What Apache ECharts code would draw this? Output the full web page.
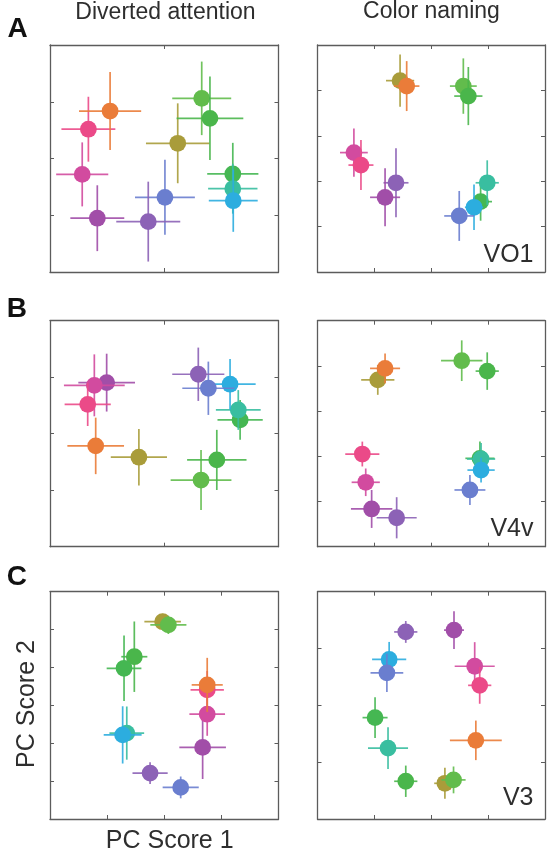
<!DOCTYPE html>
<html>
<head>
<meta charset="utf-8">
<script src="https://cdn.jsdelivr.net/npm/echarts@6/dist/echarts.min.js"></script>
<style>
html,body{margin:0;padding:0;background:#fff;}
#c{width:548px;height:853px;}
</style>
</head>
<body>
<div id="c"></div>
<script>
// Stimulus colour categories (draw order)
const categories = ['olive','green1','green2','green3','teal','cyan','blue','violet','purple','magenta','pink','orange'];
const catColors = ['#a99c3a','#62bc4c','#4ab64b','#45b752','#39bea0','#2caddf','#6a7ecf','#8c62b6','#a14ea8','#d24b9f','#eb4a88','#ea7c39'];

// Column / row labels
const columnTitles = ['Diverted attention', 'Color naming'];
const rowLetters = ['A', 'B', 'C'];
const areaLabels = ['VO1', 'V4v', 'V3'];
const xAxisName = 'PC Score 1';
const yAxisName = 'PC Score 2';

// Panel A, diverted attention (PC1, PC2, and error half-widths)
const aDivX  = [55.9, 66.4, 70.0, 80.0, 80.0, 80.2, 50.3, 43.0, 20.7, 14.1, 16.8, 26.3];
const aDivY  = [56.7, 76.5, 67.7, 43.2, 36.7, 31.4, 32.9, 22.2, 23.7, 43.0, 62.9, 70.9];
const aDivXe = [13.9, 12.9, 14.6, 11.2, 10.8, 10.7, 13.1, 14.0, 11.8, 11.4, 11.8, 13.6];
const aDivYe = [17.6, 16.2, 18.4, 13.7, 11.0, 13.7, 16.5, 17.6, 14.5, 14.1, 14.3, 17.2];
// Panel A, color naming
const aColX  = [36.3, 64.1, 66.3, 71.7, 74.6, 68.8, 62.3, 34.5, 29.7, 16.0, 19.1, 39.2];
const aColY  = [84.3, 81.9, 77.5, 31.0, 39.3, 28.5, 24.7, 39.3, 32.9, 52.6, 47.1, 81.9];
const aColXe = [6.2, 5.9, 6.2, 5.0, 5.1, 4.0, 6.6, 5.5, 6.6, 6.1, 5.5, 5.6];
const aColYe = [11.5, 12.2, 12.8, 8.4, 9.9, 10.0, 11.0, 15.2, 12.8, 10.6, 11.0, 11.0];
// Panel B, diverted attention
const bDivX  = [38.9, 66.1, 73.0, 83.2, 82.4, 78.8, 69.3, 64.9, 24.8, 19.4, 16.5, 20.0];
const bDivY  = [39.6, 29.5, 38.4, 56.1, 60.5, 71.9, 70.1, 76.3, 72.6, 71.4, 63.0, 44.6];
const bDivXe = [12.3, 13.3, 13.0, 9.9, 9.8, 11.2, 11.4, 11.4, 12.4, 13.3, 10.1, 12.4];
const bDivYe = [12.5, 13.3, 13.3, 8.8, 8.8, 11.2, 11.8, 11.8, 12.8, 13.7, 9.6, 12.5];
// Panel B, color naming
const bColX  = [26.5, 63.4, 74.6, 71.4, 71.9, 71.9, 67.0, 34.8, 23.8, 21.2, 19.7, 29.7];
const bColY  = [73.8, 82.3, 77.7, 39.1, 38.8, 33.9, 25.1, 12.8, 16.7, 28.5, 41.0, 78.9];
const bColXe = [7.3, 9.1, 5.1, 6.4, 6.2, 6.0, 6.8, 8.8, 9.1, 6.2, 7.5, 6.6];
const bColYe = [6.6, 9.0, 8.3, 7.5, 7.1, 5.5, 6.6, 9.1, 8.4, 6.1, 5.5, 6.6];
// Panel C, diverted attention
const cDivX  = [49.3, 51.8, 36.9, 32.4, 33.6, 31.8, 57.2, 43.8, 66.8, 68.8, 68.8, 68.8];
const cDivY  = [86.8, 85.4, 71.4, 66.3, 37.8, 37.0, 13.9, 20.2, 31.5, 46.1, 56.8, 59.0];
const cDivXe = [8.0, 7.9, 5.7, 7.6, 7.6, 8.3, 7.9, 7.7, 10.2, 7.8, 7.3, 6.8];
const cDivYe = [3.5, 4.0, 15.5, 14.4, 11.7, 12.6, 4.8, 4.8, 13.9, 9.5, 8.3, 11.9];
// Panel C, color naming
const cColX  = [56.0, 59.8, 38.8, 25.3, 31.0, 31.5, 30.5, 38.8, 60.0, 69.1, 71.3, 69.6];
const cColY  = [15.7, 17.2, 16.6, 44.6, 31.2, 70.2, 64.3, 82.3, 83.1, 67.2, 58.8, 34.6];
const cColXe = [4.7, 5.3, 5.1, 5.5, 8.8, 7.5, 7.2, 5.1, 4.4, 8.8, 5.1, 11.4];
const cColYe = [6.8, 5.9, 6.9, 9.0, 9.2, 7.7, 8.4, 4.8, 8.3, 10.6, 8.1, 8.7];

// Axis tick spacing per panel (axes span 0..100)
const xTickSteps = [50, 25, 50, 25, 25, 25];
const yTickSteps = [25, 20, 25, 20, 100 / 6, 25];

const panelData = [
  [aDivX, aDivY, aDivXe, aDivYe],
  [aColX, aColY, aColXe, aColYe],
  [bDivX, bDivY, bDivXe, bDivYe],
  [bColX, bColY, bColXe, bColYe],
  [cDivX, cDivY, cDivXe, cDivYe],
  [cColX, cColY, cColXe, cColYe]
];

// layout
const colLeft = [50, 317.5];
const colWidth = [228.5, 227.5];
const rowTop = [45, 320.7, 591.7];
const rowHeight = [227, 226, 227.3];

const FONT = '"Liberation Sans", Arial, Helvetica, sans-serif';
const frameColor = '#5c5c5c';

const grids = [], xAxes = [], yAxes = [], series = [];
for (let p = 0; p < 6; p++) {
  const r = Math.floor(p / 2), c = p % 2;
  grids.push({ left: colLeft[c], top: rowTop[r], width: colWidth[c], height: rowHeight[r], containLabel: false });
  const axBase = {
    type: 'value', min: 0, max: 100, gridIndex: p,
    axisLabel: { show: false }, splitLine: { show: false },
    axisLine: { show: true, onZero: false, lineStyle: { color: frameColor, width: 1.3 } },
    axisTick: { show: true, inside: true, length: 4, lineStyle: { color: frameColor, width: 1 } }
  };
  xAxes.push(Object.assign({}, axBase, { position: 'bottom', interval: xTickSteps[p] }));
  xAxes.push(Object.assign({}, axBase, { position: 'top', interval: xTickSteps[p] }));
  yAxes.push(Object.assign({}, axBase, { position: 'left', interval: yTickSteps[p] }));
  yAxes.push(Object.assign({}, axBase, { position: 'right', interval: yTickSteps[p] }));

  const [xs, ys, xes, yes] = panelData[p];
  const data = xs.map((x, i) => [x, ys[i], xes[i], yes[i], i]);
  series.push({
    type: 'custom',
    xAxisIndex: 2 * p, yAxisIndex: 2 * p,
    data: data,
    clip: false,
    renderItem: function (params, api) {
      const x = api.value(0), y = api.value(1), xe = api.value(2), ye = api.value(3);
      const col = catColors[api.value(4)];
      const l = api.coord([x - xe, y]), rr = api.coord([x + xe, y]);
      const b = api.coord([x, y - ye]), t = api.coord([x, y + ye]);
      const ctr = api.coord([x, y]);
      return {
        type: 'group',
        children: [
          { type: 'line', shape: { x1: l[0], y1: l[1], x2: rr[0], y2: rr[1] }, style: { stroke: col, lineWidth: 1.7, opacity: 0.9 } },
          { type: 'line', shape: { x1: b[0], y1: b[1], x2: t[0], y2: t[1] }, style: { stroke: col, lineWidth: 1.7, opacity: 0.9 } },
          { type: 'circle', shape: { cx: ctr[0], cy: ctr[1], r: 8.4 }, style: { fill: col } }
        ]
      };
    }
  });
}

const textColor = '#2e2e2e';
const graphic = [
  { type: 'text', x: 165.5, y: 13, style: { text: columnTitles[0], font: '23px ' + FONT, fill: textColor, textAlign: 'center', textVerticalAlign: 'middle' } },
  { type: 'text', x: 431.5, y: 11.5, style: { text: columnTitles[1], font: '23px ' + FONT, fill: textColor, textAlign: 'center', textVerticalAlign: 'middle' } },
  { type: 'text', x: 17.5, y: 29.5, style: { text: rowLetters[0], font: 'bold 28px ' + FONT, fill: '#111', textAlign: 'center', textVerticalAlign: 'middle' } },
  { type: 'text', x: 16.8, y: 309.5, style: { text: rowLetters[1], font: 'bold 28px ' + FONT, fill: '#111', textAlign: 'center', textVerticalAlign: 'middle' } },
  { type: 'text', x: 16.8, y: 577, style: { text: rowLetters[2], font: 'bold 28px ' + FONT, fill: '#111', textAlign: 'center', textVerticalAlign: 'middle' } },
  { type: 'text', x: 533.5, y: 254.7, style: { text: areaLabels[0], font: '25px ' + FONT, fill: textColor, textAlign: 'right', textVerticalAlign: 'middle' } },
  { type: 'text', x: 533.5, y: 529, style: { text: areaLabels[1], font: '25px ' + FONT, fill: textColor, textAlign: 'right', textVerticalAlign: 'middle' } },
  { type: 'text', x: 533.5, y: 798.5, style: { text: areaLabels[2], font: '25px ' + FONT, fill: textColor, textAlign: 'right', textVerticalAlign: 'middle' } },
  { type: 'text', x: 169.7, y: 841, style: { text: xAxisName, font: '25px ' + FONT, fill: textColor, textAlign: 'center', textVerticalAlign: 'middle' } },
  { type: 'text', x: 27, y: 704, rotation: Math.PI / 2, style: { text: yAxisName, font: '25px ' + FONT, fill: textColor, textAlign: 'center', textVerticalAlign: 'middle' } }
];

const chart = echarts.init(document.getElementById('c'), null, { renderer: 'canvas', width: 548, height: 853 });
chart.setOption({
  animation: false,
  backgroundColor: '#ffffff',
  grid: grids,
  xAxis: xAxes,
  yAxis: yAxes,
  series: series,
  graphic: graphic
});
</script>
</body>
</html>
